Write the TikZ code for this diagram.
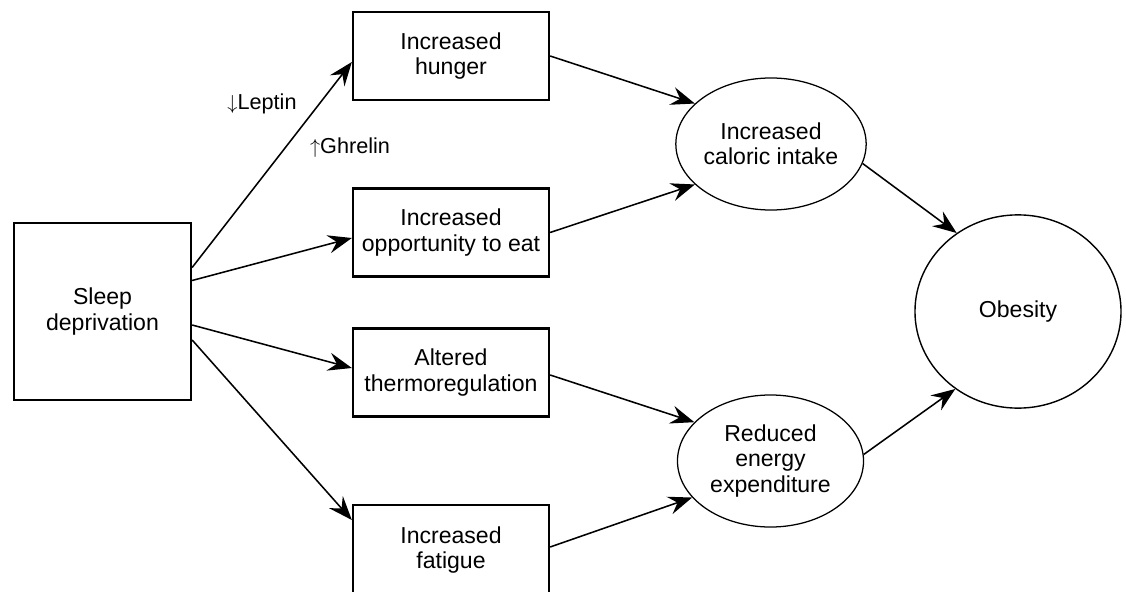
\documentclass[tikz,border=0pt]{standalone}
\usepackage{fontspec}
\setmainfont{Liberation Sans}
\usetikzlibrary{arrows.meta,shapes.geometric,calc}

\begin{document}
\begin{tikzpicture}[x=0.025cm, y=-0.025cm,
  every node/.style={font=\fontsize{16.4}{18}\selectfont, align=center},
  box/.style={draw, line width=1.6pt, minimum width=4.9cm, minimum height=2.2cm, inner sep=0pt},
  oval/.style={draw, ellipse, line width=0.9pt, inner sep=0pt, minimum width=4.65cm, minimum height=3.3cm},
  arr/.style={-{Stealth[length=17pt,width=13pt,inset=6pt]}, line width=1.1pt}]
  \useasboundingbox (0,0) rectangle (1126,592);
  % causes
  \node[box, minimum width=4.425cm, minimum height=4.425cm] (sleep) at (102.5,311.5) {Sleep\\deprivation};
  \node[box] (hunger) at (451,56) {Increased\\hunger};
  \node[box] (opport) at (451,232.5) {Increased\\opportunity to eat};
  \node[box] (thermo) at (451,372.5) {Altered\\thermoregulation};
  \node[box, minimum height=2.25cm] (fatigue) at (451,550) {Increased\\fatigue};
  % effects
  \node[oval] (intake) at (771,144) {Increased\\caloric intake};
  \node[oval] (energy) at (770.5,461) {Reduced\\energy\\expenditure};
  \node[oval, line width=1pt, minimum width=5.15cm, minimum height=4.83cm] (obesity) at (1018,311.5) {Obesity};
  \node[font=\fontsize{15.4}{17}\selectfont] (leptin) at (262,104) {$\downarrow$Leptin};
  \node[font=\fontsize{15.4}{17}\selectfont] (ghrelin) at (350,148) {$\uparrow$Ghrelin};
  \draw[arr] ($(sleep.east)+(0,-44)$) -- ($(hunger.west)+(0,6)$);
  \draw[arr] ($(sleep.east)+(0,-31)$) -- ($(opport.west)+(0,5.5)$);
  \draw[arr] ($(sleep.east)+(0,13.5)$) -- ($(thermo.west)+(0,-4.5)$);
  \draw[arr] ($(sleep.east)+(0,28.5)$) -- ($(fatigue.west)+(0,-30)$);
  \draw[arr] (hunger.east) -- (intake.152);
  \draw[arr] (opport.east) -- (intake.208);
  \draw[arr] ($(thermo.east)+(0,2.5)$) -- (energy.153);
  \draw[arr] ($(fatigue.east)+(0,-3)$) -- (energy.205);
  \draw[arr] (intake.-12) -- (obesity.128);
  \draw[arr] (energy.4) -- (obesity.231);
\end{tikzpicture}
\end{document}
